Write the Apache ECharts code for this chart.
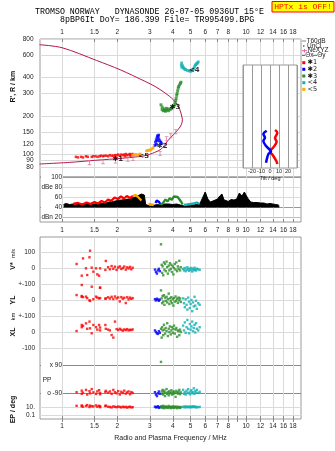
<!DOCTYPE html>
<html><head><meta charset="utf-8">
<script src="https://cdn.jsdelivr.net/npm/echarts@6/dist/echarts.min.js"></script>
<style>html,body{margin:0;padding:0;background:#fff}#c{width:335px;height:451px}</style>
</head><body><div id="c"></div><script>
// ---------- axis ranges / ticks ----------
const FREQ_MIN = 0.759, FREQ_MAX = 19.9;
const HEIGHT_MIN = 66.8, HEIGHT_MAX = 800;
const INSET_H_MIN = 78.6, INSET_H_MAX = 501;
const freqLabelsMain = [1,1.5,2,3,4,5,6,7,8,10,12,14,16,18];
const freqTicksAll = [1,1.5,2,3,4,5,6,7,8,9,10,12,14,16,18];
const heightTicks = [80,90,100,120,150,200,300,400,600,800];
const dbTicks = [20,40,60,80,100];
const dbTickLabels = ['dBn 20','40','60','dBe 80','100'];
const tiltTicks = [-20,-10,0,10,20];

// ---------- true-height profile (MHz, km) ----------
const profileFreq = [0.755,1.1,1.5,2.19,2.82,3.19,3.45,3.6,3.75,4.03,4.29,4.45,4.51,4.47,4.43,4.29,4.03,3.63,3.2,2.83,2.07,1.54,1.0,0.755];
const profileHeight = [84.4,86.9,90.1,94,98,104,110,118,128,143,158,171,187,200,211,238,268,303,341,373,460,544,684,722];
const neFreq = [1.41,1.67,1.95,2.28,2.43,3.41,3.7,3.9,4.15];
const neHeight = [86.5,88,89,92,93,102,133,140,151];

// ---------- echo traces (MHz, km) ----------
const red1Freq = [1.19,1.22,1.27,1.3,1.35,1.38,1.45,1.48,1.52,1.56,1.6,1.63,1.67,1.7,1.74,1.78,1.82,1.86,1.9,1.94,1.95,1.98,2.02,2.06,2.1,2.14,2.18,2.2,2.22,2.26,2.3,2.34,2.35,2.38,2.42];
const red1Height = [96,95,96,95,97,96,96,97,97,96,97,98,97,98,98,97,99,98,98,99,96,99,100,98,100,99,100,97,101,99,100,101,98,100,101];
const orange5Freq = [2.42,2.47,2.52,2.57,2.62,2.66,2.88,2.93,2.98,3.03,3.08,3.13];
const orange5Height = [99,100,100,99,100,101,107,108,108,109,111,113];
const blue2Freq = [3.2,3.22,3.25,3.26,3.28,3.3,3.3,3.33,3.35,3.36,3.4,3.44,3.47];
const blue2Height = [118,125,130,120,135,140,128,138,142,132,128,125,122];
const green3Freq = [3.45,3.5,3.5,3.55,3.6,3.6,3.65,3.7,3.7,3.75,3.8,3.85,3.9,3.95,4.0,4.05,4.1,4.12,4.15,4.17,4.2,4.22,4.25,4.28,4.3,4.35,4.4,4.43];
const green3Height = [245,235,225,220,222,228,218,222,230,225,220,228,226,230,235,238,245,255,265,275,290,300,315,330,340,350,360,368];
const cyan4Freq = [4.45,4.47,4.48,4.52,4.56,4.6,4.65,4.7,4.8,4.9,5.0,5.1,5.15,5.2,5.25,5.3,5.35,5.4,5.45,5.5];
const cyan4Height = [500,520,480,495,480,470,465,460,455,450,448,452,460,470,485,500,505,515,520,530];
const markerFreq = [2.01,2.78,3.5,4.11,5.23];
const markerHeight = [91.9,97.5,116.7,232.5,458];
const markerText = ['✱1','<5','✱2','✱3','<4'];

// ---------- tilt inset (deg, km) ----------
const tiltXDeg = [5.6,8.1,5.6,7.4,3.7,0,3,7.4,8.1];
const tiltXHeight = [155.6,148.3,134.1,126.1,114,105.4,99.3,88,84.5];
const tiltYDeg = [-3.7,-7.4,-5.6,-7.4,-4.4,1.1,-1.9,-4.4];
const tiltYHeight = [153.8,144.9,135.5,127.7,116.7,105.4,100.8,86.5];

// ---------- amplitude panel (MHz, dB) ----------
const DB_FLOOR = 39;
const dbFreq = [1.02,1.05,1.1,1.15,1.2,1.3,1.4,1.5,1.6,1.7,1.8,1.9,2.0,2.1,2.2,2.3,2.4,2.5,2.6,2.7,2.8,2.85,2.9,3.0,3.1,3.2,3.3,3.4,3.5,3.6,3.8,4.0,4.2,4.4,4.6,4.8,5.0,5.2,5.4,5.6,5.8,6.0,6.2,6.4,6.6,6.8,7.0,7.2,7.4,7.6,7.8,8.0,8.3,8.6,8.9,9.2,9.5,9.8,10.2,10.6,11,11.5,12,12.5,13,13.5,14,14.5,15,15.2];
const dbTop = [45,47,45,46,46,46,47,46,48,47,50,51,53,54,55,56,58,60,63,66,64,45,42,42,43,44,45,44,45,46,46,45,46,44,42,43,44,44,45,46,58,70,56,50,52,54,56,62,66,54,53,51,55,54,56,68,62,70,58,50,49,49,48,48,46,47,46,45,44,42];
const redDbFreq = [1.15,1.22,1.29,1.36,1.43,1.5,1.57,1.64,1.71,1.78,1.85,1.93,2.01,2.09,2.17,2.25,2.34,2.43];
const redDb = [46,48,45,49,46,50,47,52,49,55,52,59,56,61,57,62,58,62];
const orangeDbFreqA = [2.43,2.5,2.57,2.63,2.7];
const orangeDbA = [62,64,61,57,53];
const orangeDbFreqB = [2.95,3.0,3.05,3.1,3.15];
const orangeDbB = [46,48,45,47,44];
const blueDbFreq = [3.22,3.27,3.32,3.37,3.42];
const blueDb = [48,53,55,50,46];
const greenDbFreq = [3.45,3.55,3.65,3.75,3.85,3.95,4.05,4.15,4.25,4.35,4.45,4.52];
const greenDb = [44,49,55,51,58,54,61,57,60,55,50,45];
const cyanDbFreq = [4.6,4.7,4.8,4.9,5.0,5.1,5.2,5.3,5.4,5.5,5.6];
const cyanDb = [44,47,45,48,46,49,47,51,49,52,46];

// ---------- echo parameters (lower panel) ----------
const lowRedFreq = [1.20,1.28,1.28,1.30,1.35,1.37,1.41,1.42,1.45,1.48,1.53,1.555,1.59,1.61,1.61,1.72,1.73,1.78,1.82,1.86,1.9,1.94,1.98,2.02,2.06,2.1,2.14,2.18,2.22,2.26,2.3,2.34,2.38,2.42];
const lowRedV = [25,-48,-106,60,-2,-44,67,108,2,-23,-2,-40,-48,-2,-123,-12,44,5,-8,12,-5,8,-12,3,10,-6,0,9,-10,4,-3,7,-8,2];
const lowRedYL = [31,25,20,18,21,12,-2,-6,83,5,21,15,10,77,12,8,10,17,9,20,6,22,10,16,-9,18,8,14,-19,17,4,15,7,12];
const lowRedXL = [6,44,30,38,54,20,65,23,-8,44,30,15,44,28,10,44,20,15,10,-19,-35,65,18,12,20,14,8,16,12,18,10,14,12,16];
const lowRedPP = [-85,-95,-75,-88,-70,-100,-78,-92,-65,-86,-96,-80,-72,-90,-98,-84,-76,-88,-80,-95,-70,-85,-92,-78,-100,-82,-90,-75,-94,-86,-80,-98,-84,-90];
const lowRedEP = [20,15,25,12,18,30,10,22,16,14,25,12,20,9,15,18,22,12,10,8,14,11,9,13,10,8,12,9,11,7,10,12,8,9];
const lowBlueFreq = [3.2,3.24,3.28,3.32,3.36,3.4];
const lowBlueV = [-10,-25,-35,-15,-5,-20];
const lowBlueYL = [5,-3,8,2,-5,3];
const lowBlueXL = [10,0,-8,-12,5,-5];
const lowBluePP = [-85,-100,-110,-92,-80,-95];
const lowBlueEP = [12,8,10,15,6,9];
const lowGreenFreq = [3.45,3.48,3.5,3.52,3.55,3.58,3.6,3.63,3.66,3.7,3.73,3.76,3.8,3.83,3.86,3.9,3.93,3.96,4.0,4.03,4.06,4.1,4.14,4.18,4.22,4.26,4.3,4.34,4.38,4.42];
const lowGreenV = [148,20,-30,10,-45,35,-10,25,-20,40,5,-35,15,-15,30,-5,20,-25,10,-40,0,25,-10,35,-20,10,-5,45,-15,5];
const lowGreenYL = [60,10,-20,25,-10,30,-30,15,-5,20,-15,5,40,-25,10,-8,18,-20,5,-35,12,-10,22,-5,8,-18,15,-2,10,-12];
const lowGreenXL = [20,-35,30,10,-20,45,15,-10,25,5,55,-25,20,0,35,-15,10,30,-5,20,40,-10,15,25,-30,10,5,-20,15,0];
const lowGreenPP = [110,-80,-95,-70,-100,-85,-75,-110,-90,-65,-95,-85,-105,-78,-92,-88,-72,-100,-84,-96,-80,-90,-115,-76,-88,-94,-82,-70,-98,-86];
const lowGreenEP = [15,8,12,6,20,10,5,9,14,7,11,6,18,8,10,5,12,9,7,15,6,10,8,13,5,9,11,7,6,10];
const lowCyanFreq = [4.55,4.6,4.65,4.7,4.75,4.8,4.85,4.9,4.95,5.0,5.05,5.1,5.15,5.2,5.25,5.3,5.35,5.4,5.5,5.6];
const lowCyanV = [-5,-15,0,-20,-10,5,-8,-18,-3,-12,0,-22,-6,-14,2,-10,-16,-4,-8,-12];
const lowCyanYL = [10,-20,-45,5,-30,-60,15,-10,-50,-25,0,-70,-15,-40,20,-35,-5,-55,-20,-30];
const lowCyanXL = [40,10,60,-5,30,75,20,-8,50,15,35,65,5,25,45,-3,55,20,10,30];
const lowCyanPP = [-70,-95,-85,-100,-75,-90,-65,-88,-98,-80,-72,-92,-85,-60,-95,-78,-88,-70,-90,-82];
const lowCyanEP = [10,12,8,14,10,9,12,11,8,13,10,9,15,11,10,12,8,10,9,11];

// ---------- layout helpers ----------
const L = Math.log10;
const XMIN = L(FREQ_MIN), XMAX = L(FREQ_MAX);
// lower panel: one shared axis, rows stacked (units = px from panel bottom)
const rowV = v => 151 + v * 0.16;
const rowYL = v => 119 + v * 0.16;
const rowXL = v => 87 + v * 0.16;
const rowPP = v => 40 + v * 28 / 180;
const rowEP = v => 12 + (L(v) - 1) * 4;
const lowTickVals = [rowEP(0.1), rowEP(10), rowXL(-100), rowXL(0), rowYL(-100), rowYL(0), rowV(-100), rowV(0), rowV(100)];
const lowTickText = ['0.1','10.','-100','0','+-100','0','+-100','0','100'];
const ppTickVals = [rowPP(-90), rowPP(90)];
const ppTickText = ['o -90','x 90'];
const pick = (vals, txt) => v => { for (let i = 0; i < vals.length; i++) if (Math.abs(vals[i] - v) < 1e-6) return txt[i]; return ''; };

const FONT = 'Liberation Sans';
const TXT = '#222', GRIDC = '#dadada', FRAME = '#9a9a9a';
const C = {red:'#ff0000', blue:'#0000ff', green:'#2a8c2a', cyan:'#12b0b4', orange:'#ffa500', prof:'#b5164b', ne:'#e3689c'};
const lbl = o => Object.assign({fontSize:6.5, color:TXT, fontFamily:FONT, hideOverlap:false, showMinLabel:true, showMaxLabel:true}, o || {});
const fmtF = v => String(Number(Math.pow(10, v).toFixed(1)));
const fmtH = v => String(Math.round(Math.pow(10, v)));
const logF = freqTicksAll.map(L), logFMain = freqLabelsMain.map(L);
const logH = heightTicks.map(L);
// alternate height labels over two label-only axes so close ticks are not culled
const logHA = logH.filter((v, i) => i % 2 === 0), logHB = logH.filter((v, i) => i % 2 === 1);

const hPairs = (fs, hs) => fs.map((f, i) => [L(f), L(hs[i])]);
const dPairs = (fs, ds) => fs.map((f, i) => [L(f), ds[i]]);
const rows = (fs, V, Y, X, P, E) => {
  const out = [];
  fs.forEach((f, i) => {
    const x = L(f);
    out.push([x, rowV(V[i])], [x, rowYL(Y[i])], [x, rowXL(X[i])], [x, rowPP(P[i])], [x, rowEP(E[i])]);
  });
  return out;
};

const echoScatter = (name, data, color, size) => ({
  name, type:'scatter', xAxisIndex:0, yAxisIndex:0, data, symbol:'rect', symbolSize:size || 2.5,
  itemStyle:{color}, z:3
});
const dbLine = (fs, ds, color) => ({
  type:'line', xAxisIndex:1, yAxisIndex:1, data:dPairs(fs, ds), symbol:'none',
  lineStyle:{color, width:2.3}, z:4
});
const lowScatter = (data, color) => ({
  type:'scatter', xAxisIndex:2, yAxisIndex:2, data, symbol:'rect', symbolSize:2.4, itemStyle:{color}, z:3
});

const xBase = (grid, pos) => ({
  gridIndex:grid, type:'value', position:pos, min:XMIN, max:XMAX,
  axisLine:{show:false},
  axisTick:{show:true, inside:true, length:3, customValues:logF, lineStyle:{color:'#888'}},
  splitLine:{show:true, lineStyle:{color:GRIDC, width:1}}
});

const legendY = [62.7,69.3,76,82.7,89.3];
const legendCol = [C.red, C.blue, C.green, C.cyan, C.orange];
const legendTxt = ['✱1','✱2','✱3','<4','<5'];
const txt = (x, y, text, o) => ({type:'text', x, y, z:10, style:Object.assign({text, fontSize:6.5, fontFamily:FONT, fill:TXT, align:'left', verticalAlign:'middle'}, o || {})});
const vtxt = (x, y, text, o) => Object.assign(txt(x, y, text, Object.assign({align:'center', fontWeight:'bold', fontSize:7, fill:'#111'}, o || {})), {rotation:Math.PI / 2});

const graphics = [
  txt(35, 12.3, 'TROMSO NORWAY   DYNASONDE 26-07-05 0936UT 15°E', {fontFamily:'Liberation Mono', fontSize:8.3, fill:'#000'}),
  txt(60, 20.3, '8pBP6It DoY= 186.399 File= TR995499.BPG', {fontFamily:'Liberation Mono', fontSize:8.3, fill:'#000'}),
  {type:'rect', z:10, shape:{x:272, y:1.5, width:62, height:10.5}, style:{fill:'#ffff00', stroke:'#ff0000', lineWidth:1}},
  txt(303, 7, 'HPTx is OFF!', {fontFamily:'Liberation Mono', fontSize:8, fill:'#ff0000', align:'center'}),
  vtxt(13.5, 86.7, "R', R / km"),
  vtxt(13, 266, 'V*'),
  vtxt(13, 253.5, 'm/s', {fontWeight:'normal', fontSize:5.5}),
  vtxt(13, 300, 'YL'),
  vtxt(13, 316.5, 'km', {fontWeight:'normal', fontSize:6}),
  vtxt(13, 332, 'XL'),
  vtxt(13.3, 409.5, 'EP / deg'),
  txt(42.7, 380, 'PP'),
  // inset mask / frame
  {type:'rect', z:1, shape:{x:243, y:65, width:54, height:103}, style:{fill:'#fff', stroke:'#999', lineWidth:1}},
  // legend
  {type:'line', z:10, shape:{x1:302, y1:41, x2:306, y2:41}, style:{stroke:'#888', lineWidth:1}},
  txt(306.5, 41, 'T60dB'),
  {type:'circle', z:10, shape:{cx:303.8, cy:46, r:0.8}, style:{fill:'#333'}},
  txt(307, 46, 'UnCl'),
  {type:'line', z:10, shape:{x1:302, y1:50.7, x2:307, y2:50.7}, style:{stroke:C.ne, lineWidth:1}},
  {type:'line', z:10, shape:{x1:304.5, y1:49, x2:304.5, y2:52.4}, style:{stroke:C.ne, lineWidth:1}},
  txt(307.5, 50.7, 'NeXYZ'),
  {type:'line', z:10, shape:{x1:302, y1:55.3, x2:305, y2:55.3}, style:{stroke:C.prof, lineWidth:1}},
  txt(305.3, 55.3, 'Θx'),
  {type:'line', z:10, shape:{x1:313, y1:55.3, x2:317, y2:55.3}, style:{stroke:'#4060d0', lineWidth:1}},
  txt(317.3, 55.3, 'Θy')
];
legendY.forEach((y, i) => {
  graphics.push({type:'rect', z:10, shape:{x:302.3, y:y - 1.5, width:3, height:3}, style:{fill:legendCol[i]}});
  graphics.push(txt(307.5, y, legendTxt[i], {fontFamily:'DejaVu Sans', fontSize:6.5, fill:'#111'}));
});

const hLabelAxis = vals => ({gridIndex:0, type:'value', min:L(HEIGHT_MIN), max:L(HEIGHT_MAX), position:'left',
  axisLine:{show:false}, axisTick:{show:false}, splitLine:{show:false},
  axisLabel:lbl({customValues:vals, formatter:fmtH, margin:6.5})});

const option = {
  animation:false,
  backgroundColor:'#fff',
  grid:[
    {left:40, top:39, width:261, height:138, show:true, borderColor:FRAME, borderWidth:1, backgroundColor:'rgba(0,0,0,0)'},
    {left:40, top:177, width:261, height:45, show:true, borderColor:FRAME, borderWidth:1, backgroundColor:'rgba(0,0,0,0)'},
    {left:40, top:237, width:261, height:182, show:true, borderColor:FRAME, borderWidth:1, backgroundColor:'rgba(0,0,0,0)'},
    {left:243, top:65, width:54, height:103, show:false}
  ],
  xAxis:[
    Object.assign(xBase(0, 'top'), {axisLabel:lbl({customValues:logFMain, formatter:fmtF, margin:3})}),
    Object.assign(xBase(1, 'bottom'), {axisLabel:{show:false}}),
    Object.assign(xBase(2, 'top'), {axisLabel:lbl({customValues:logF, formatter:fmtF, margin:3.5})}),
    Object.assign(xBase(2, 'bottom'), {axisLabel:lbl({customValues:logFMain, formatter:fmtF, margin:3.5}),
      splitLine:{show:false},
      name:'Radio and Plasma Frequency / MHz', nameLocation:'middle', nameGap:16,
      nameTextStyle:{fontSize:7, color:TXT, fontFamily:FONT}}),
    {gridIndex:3, type:'value', min:-30, max:30, interval:10, position:'bottom', z:2,
      axisLine:{show:false}, axisTick:{show:false},
      axisLabel:lbl({customValues:tiltTicks, fontSize:5.5, margin:0.5}),
      splitLine:{show:true, lineStyle:{color:'#999'}},
      name:'Tilt / deg', nameLocation:'middle', nameGap:5.5, nameTextStyle:{fontSize:5.5, color:TXT, fontFamily:FONT}}
  ],
  yAxis:[
    {gridIndex:0, type:'value', min:L(HEIGHT_MIN), max:L(HEIGHT_MAX),
      axisLine:{show:false}, axisTick:{show:false, customValues:logH},
      axisLabel:{show:false},
      splitLine:{show:true, lineStyle:{color:GRIDC}}},
    {gridIndex:1, type:'value', min:10, max:100,
      axisLine:{show:false}, axisTick:{show:false, customValues:dbTicks},
      axisLabel:lbl({customValues:dbTicks, formatter:pick(dbTicks, dbTickLabels), margin:-22, width:21, align:'right', backgroundColor:'#fff'}),
      splitLine:{show:true, lineStyle:{color:['#b8b8e8','#999','#dadada','#dadada','#999']}}},
    {gridIndex:2, type:'value', min:0, max:182, position:'left',
      axisLine:{show:false}, axisTick:{show:false, customValues:lowTickVals},
      axisLabel:lbl({customValues:lowTickVals, formatter:pick(lowTickVals, lowTickText), margin:5}),
      splitLine:{show:true, lineStyle:{color:GRIDC}}},
    {gridIndex:2, type:'value', min:0, max:182, position:'left',
      axisLine:{show:false}, axisTick:{show:false, customValues:ppTickVals},
      axisLabel:lbl({customValues:ppTickVals, formatter:pick(ppTickVals, ppTickText), margin:-22, width:21, align:'right', backgroundColor:'#fff'}),
      splitLine:{show:true, lineStyle:{color:'#8a8a8a'}}},
    {gridIndex:3, type:'value', min:L(INSET_H_MIN), max:L(INSET_H_MAX), show:false},
    hLabelAxis(logHA),
    hLabelAxis(logHB)
  ],
  series:[
    {name:'profile', type:'line', xAxisIndex:0, yAxisIndex:0, data:hPairs(profileFreq, profileHeight),
      symbol:'none', smooth:0.3, lineStyle:{color:C.prof, width:1}, z:3},
    {name:'NeXYZ', type:'scatter', xAxisIndex:0, yAxisIndex:0, data:hPairs(neFreq, neHeight),
      symbol:'path://M0,0H4V1H2.5V5H4V6H0V5H1.5V1H0Z', symbolSize:[3.5,5], itemStyle:{color:C.ne}, z:3},
    echoScatter('×1', hPairs(red1Freq, red1Height), C.red),
    echoScatter('<5', hPairs(orange5Freq, orange5Height), C.orange, 2.8),
    echoScatter('×2', hPairs(blue2Freq, blue2Height), C.blue, 2.8),
    echoScatter('×3', hPairs(green3Freq, green3Height), C.green, 2.9),
    echoScatter('<4', hPairs(cyan4Freq, cyan4Height), C.cyan, 2.8),
    {type:'scatter', xAxisIndex:0, yAxisIndex:0, symbolSize:1, itemStyle:{color:'rgba(0,0,0,0)'}, z:5,
      data:markerFreq.map((f, i) => ({value:[L(f), L(markerHeight[i])], label:{formatter:markerText[i]}})),
      label:{show:true, position:'inside', fontSize:7, fontWeight:'bold', color:'#000', fontFamily:'DejaVu Sans'}},
    {type:'line', xAxisIndex:1, yAxisIndex:1, data:dPairs(dbFreq, dbTop),
      symbol:'none', lineStyle:{color:'#000', width:1}, areaStyle:{color:'#000', opacity:1, origin:DB_FLOOR}, z:3},
    dbLine(redDbFreq, redDb, C.red),
    dbLine(orangeDbFreqA, orangeDbA, C.orange),
    dbLine(orangeDbFreqB, orangeDbB, C.orange),
    dbLine(blueDbFreq, blueDb, C.blue),
    dbLine(greenDbFreq, greenDb, C.green),
    dbLine(cyanDbFreq, cyanDb, C.cyan),
    lowScatter(rows(lowRedFreq, lowRedV, lowRedYL, lowRedXL, lowRedPP, lowRedEP), C.red),
    lowScatter(rows(lowBlueFreq, lowBlueV, lowBlueYL, lowBlueXL, lowBluePP, lowBlueEP), C.blue),
    lowScatter(rows(lowGreenFreq, lowGreenV, lowGreenYL, lowGreenXL, lowGreenPP, lowGreenEP), C.green),
    lowScatter(rows(lowCyanFreq, lowCyanV, lowCyanYL, lowCyanXL, lowCyanPP, lowCyanEP), C.cyan),
    {name:'Θx', type:'line', xAxisIndex:4, yAxisIndex:4, data:tiltXDeg.map((d, i) => [d, L(tiltXHeight[i])]),
      symbol:'none', smooth:0.3, lineStyle:{color:C.red, width:2.5}, z:6},
    {name:'Θy', type:'line', xAxisIndex:4, yAxisIndex:4, data:tiltYDeg.map((d, i) => [d, L(tiltYHeight[i])]),
      symbol:'none', smooth:0.3, lineStyle:{color:C.blue, width:2.5}, z:6}
  ],
  graphic:{elements:graphics}
};
const chart = echarts.init(document.getElementById('c'), null, {renderer:'canvas', width:335, height:451});
chart.setOption(option);
</script></body></html>
